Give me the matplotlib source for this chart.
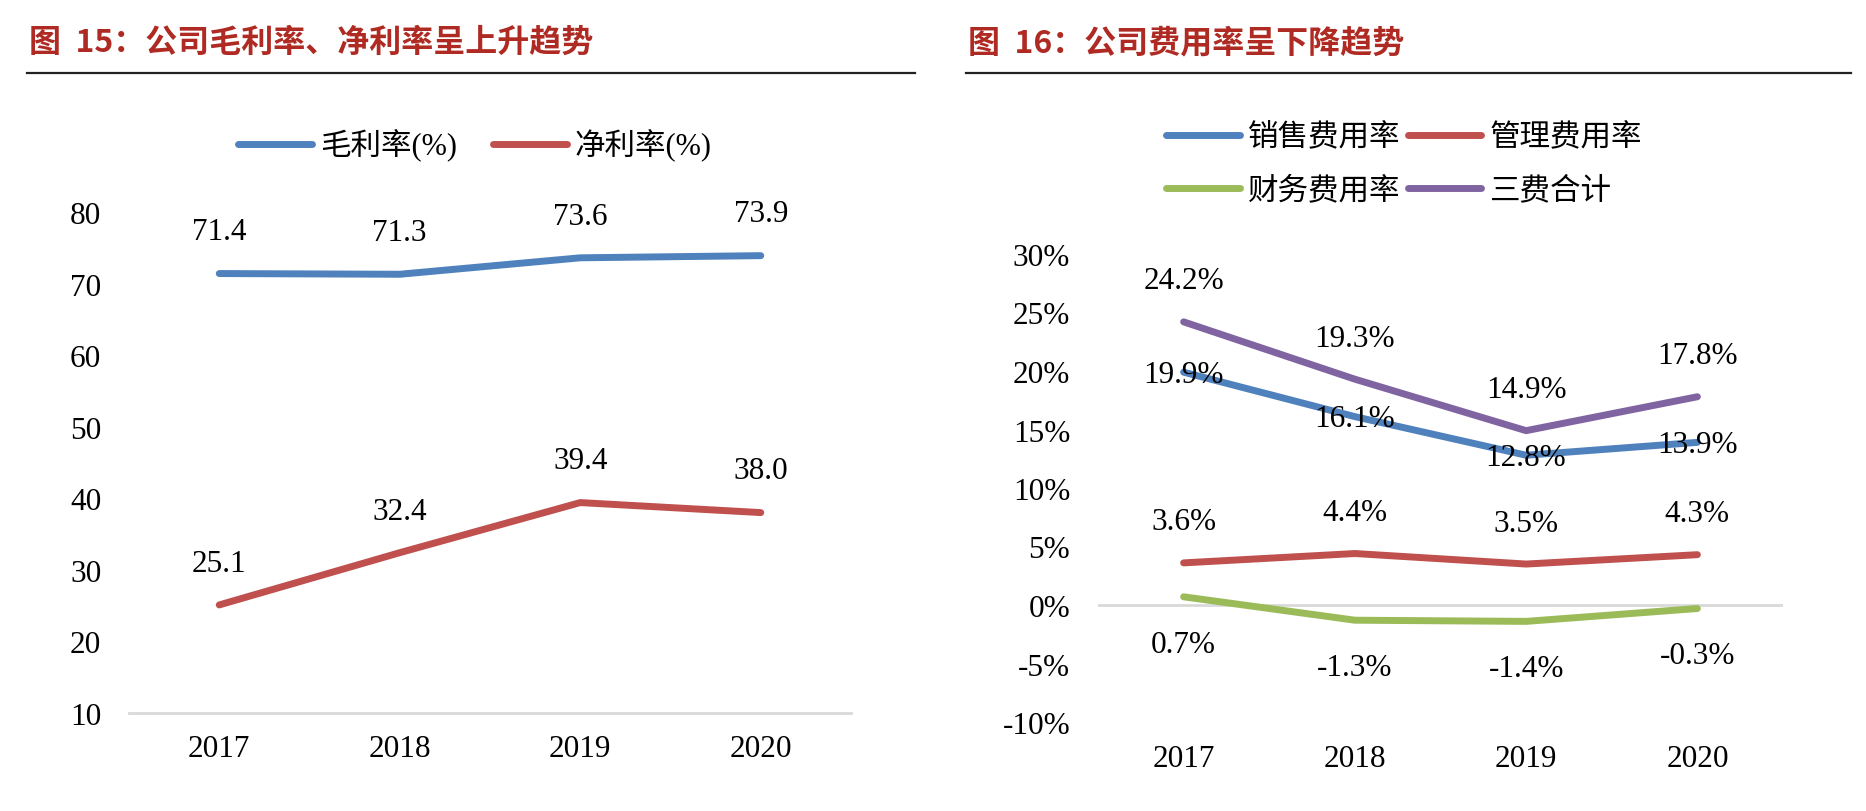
import numpy as np
import matplotlib
matplotlib.use("Agg")
import matplotlib.pyplot as plt
from matplotlib.lines import Line2D

plt.rcParams['font.family'] = ['Liberation Serif', 'Noto Sans CJK SC']
plt.rcParams['axes.unicode_minus'] = False

# data
years = ['2017', '2018', '2019', '2020']
gross_margin = [71.4, 71.3, 73.6, 73.9]
net_margin = [25.1, 32.4, 39.4, 38.0]

sales_rate = [19.9, 16.1, 12.8, 13.9]
admin_rate = [3.6, 4.4, 3.5, 4.3]
fin_rate = [0.7, -1.3, -1.4, -0.3]
total_rate = [24.2, 19.3, 14.9, 17.8]

left_title = '图  15：公司毛利率、净利率呈上升趋势'
right_title = '图  16：公司费用率呈下降趋势'

BLUE = '#4F81BD'
RED = '#C0504D'
GREEN = '#9BBB59'
PURPLE = '#8064A2'
TITLE_RED = '#AE2A22'
GRID = '#D9D9D9'

W, H = 1866, 812
fig = plt.figure(figsize=(W / 100, H / 100), dpi=100)

FS = 22.5
LW = 5


def px_box(x0, x1, ytop, ybot):
    return [x0 / W, 1 - ybot / H, (x1 - x0) / W, (ybot - ytop) / H]


def label_points(ax, x, vals, fmt, dy):
    for xi, v in zip(x, vals):
        ax.annotate(fmt.format(v), (xi, v), xytext=(0, dy), textcoords='offset points',
                    ha='center', va='center', fontsize=FS)


def clean(ax):
    for s in ax.spines.values():
        s.set_visible(False)
    ax.tick_params(length=0, labelsize=FS)


# titles and rules
for x0, x1, t in [(27, 915, left_title), (966, 1851, right_title)]:
    fig.text((x0 + 2) / W, 1 - 43 / H, t, ha='left', va='center', fontsize=23,
             fontweight='bold', color=TITLE_RED, family=['Noto Sans CJK SC'])
    fig.add_artist(Line2D([x0 / W, x1 / W], [1 - 74 / H, 1 - 74 / H], color='#222222', lw=1.6))

# left chart
x = np.arange(len(years))
ax1 = fig.add_axes(px_box(129, 851, 213, 714))
ax1.plot(x, gross_margin, color=BLUE, lw=LW, solid_capstyle='round', label='毛利率(%)')
ax1.plot(x, net_margin, color=RED, lw=LW, solid_capstyle='round', label='净利率(%)')
ax1.set_xlim(-0.5, 3.5)
ax1.set_ylim(10, 80)
ax1.set_yticks(range(10, 81, 10))
ax1.set_xticks(x)
ax1.set_xticklabels(years)
clean(ax1)
ax1.spines['bottom'].set_visible(True)
ax1.spines['bottom'].set_color(GRID)
ax1.spines['bottom'].set_linewidth(2)
ax1.tick_params(axis='y', pad=20)
ax1.tick_params(axis='x', pad=15)
label_points(ax1, x, gross_margin, '{:.1f}', 30)
label_points(ax1, x, net_margin, '{:.1f}', 30)
fig.legend(handles=ax1.get_lines(), loc='center', bbox_to_anchor=(475 / W, 1 - 146 / H),
           ncol=2, frameon=False, fontsize=22, handlelength=2.4, handletextpad=0.26,
           columnspacing=1.2)

# right chart
ax2 = fig.add_axes(px_box(1098, 1783, 255, 723))
l_sales, = ax2.plot(x, sales_rate, color=BLUE, lw=LW, solid_capstyle='round', label='销售费用率')
l_admin, = ax2.plot(x, admin_rate, color=RED, lw=LW, solid_capstyle='round', label='管理费用率')
l_fin, = ax2.plot(x, fin_rate, color=GREEN, lw=LW, solid_capstyle='round', label='财务费用率')
l_tot, = ax2.plot(x, total_rate, color=PURPLE, lw=LW, solid_capstyle='round', label='三费合计')
ax2.axhline(0, color=GRID, lw=2, zorder=0)
ax2.set_xlim(-0.5, 3.5)
ax2.set_ylim(-10, 30)
ax2.set_yticks(range(-10, 31, 5))
ax2.set_yticklabels(['{}%'.format(v) for v in range(-10, 31, 5)])
ax2.set_xticks(x)
ax2.set_xticklabels(years)
clean(ax2)
ax2.tick_params(axis='y', pad=20)
ax2.tick_params(axis='x', pad=16)
label_points(ax2, x, total_rate, '{:.1f}%', 29.5)
label_points(ax2, x, sales_rate, '{:.1f}%', -1.5)
label_points(ax2, x, admin_rate, '{:.1f}%', 29.5)
label_points(ax2, x, fin_rate, '{:.1f}%', -34)
fig.legend(handles=[l_sales, l_fin, l_admin, l_tot], loc='center',
           bbox_to_anchor=(1404 / W, 1 - 165.5 / H), ncol=2, frameon=False, fontsize=22,
           handlelength=2.4, handletextpad=0.26, columnspacing=0.26, labelspacing=0.8)

fig.savefig('out.png', dpi=100)
